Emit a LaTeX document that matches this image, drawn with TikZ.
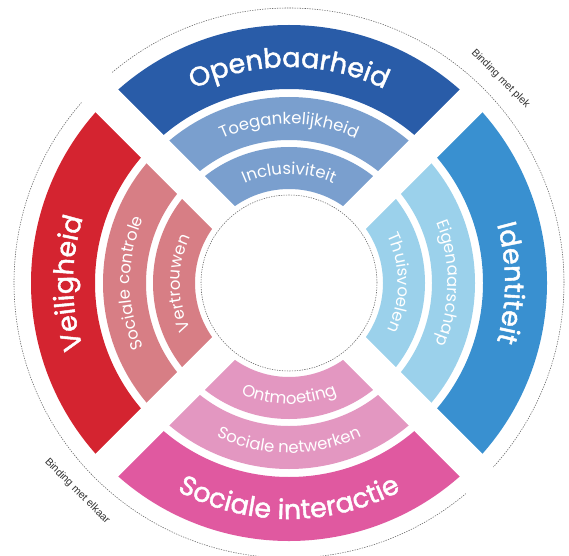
\documentclass[tikz,border=0pt]{standalone}
\usepackage{fontspec}
\setmainfont{Poppins}
\newfontfamily\bigfam[FakeBold=1.6]{Poppins}
\newfontfamily\labfont{Liberation Sans}
\usetikzlibrary{decorations.text}
\definecolor{cOpen}{RGB}{41,92,168}
\definecolor{cOpenL}{RGB}{122,159,206}
\definecolor{cIdent}{RGB}{57,144,208}
\definecolor{cIdentL}{RGB}{155,209,235}
\definecolor{cSoc}{RGB}{224,89,160}
\definecolor{cSocL}{RGB}{227,151,193}
\definecolor{cVeil}{RGB}{212,36,48}
\definecolor{cVeilL}{RGB}{215,126,133}
\definecolor{cDot}{RGB}{100,100,100}
\newcommand\bigf{\bigfam\fontsize{27}{30}\selectfont}
\newcommand\smf{\fontsize{16.5}{18}\selectfont}
\newcommand\ringsector[5]{%
  \fill[#1] ([shift={(c)}]#2:#4) arc[start angle=#2,end angle=#3,radius=#4]
    -- ([shift={(c)}]#3:#5) arc[start angle=#3,end angle=#2,radius=#5] -- cycle;}
\newcommand\arctext[5]{%
  \path[decorate,decoration={text along path,text={|#1|#2},text align=center,text color=white}]
    ([shift={(c)}]#4:#3) arc[start angle=#4,end angle=#5,radius=#3];}
\begin{document}
\begin{tikzpicture}[x=1pt,y=1pt,
  dotline/.style={cDot,line width=0.55pt,dash pattern=on 1.3pt off 1.2pt},
  lab/.style={font=\labfont\fontsize{10.5}{12}\selectfont,text=black!80,inner sep=0pt},
  gapline/.style={white,line width=32pt}]
\useasboundingbox (0,0) rectangle (569,555);
\fill[white] (0,0) rectangle (569,555);
\coordinate (c) at (289,272);
% outer bands
\ringsector{cOpen}{45}{135}{258}{194}
\ringsector{cVeil}{135}{225}{258}{194}
\ringsector{cSoc}{225}{315}{258}{194}
\ringsector{cIdent}{-45}{45}{258}{194}
% middle bands
\ringsector{cOpenL}{45}{135}{186}{143}
\ringsector{cVeilL}{135}{225}{186}{143}
\ringsector{cSocL}{225}{315}{186}{143}
\ringsector{cIdentL}{-45}{45}{186}{143}
% inner bands
\ringsector{cOpenL}{45}{135}{136}{94}
\ringsector{cVeilL}{135}{225}{136}{94}
\ringsector{cSocL}{225}{315}{136}{94}
\ringsector{cIdentL}{-45}{45}{136}{94}
% gaps between quadrants
\foreach \a in {45,135,225,315}
  \draw[gapline] ([shift={(c)}]\a:89) -- ([shift={(c)}]\a:266);
% dotted circles
\draw[dotline] (c) circle[radius=88];
\draw[dotline] ([shift={(c)}]130:275) arc[start angle=130,end angle=-42,radius=275];
\draw[dotline] ([shift={(c)}]139:275) arc[start angle=139,end angle=310,radius=275];
% labels outer
\node[lab,rotate=-45] (plek) at ([shift={(c)}]44:294) {Binding met plek};
\node[lab,rotate=-45] (elkaar) at ([shift={(c)}]224.5:297) {Binding met elkaar};
% band texts
\arctext{\bigf}{Openbaarheid}{216}{135}{45}
\arctext{\bigf}{Veiligheid}{216}{225}{135}
\arctext{\bigf}{Identiteit}{216}{45}{-45}
\arctext{\bigf}{Sociale interactie}{236}{225}{315}
\arctext{\smf}{Toegankelijkheid}{159}{135}{45}
\arctext{\smf}{Inclusiviteit}{109}{135}{45}
\arctext{\smf}{Sociale controle}{159}{225}{135}
\arctext{\smf}{Vertrouwen}{109}{225}{135}
\arctext{\smf}{Eigenaarschap}{159}{45}{-45}
\arctext{\smf}{Thuisvoelen}{109}{45}{-45}
\arctext{\smf}{Sociale netwerken}{170}{225}{315}
\arctext{\smf}{Ontmoeting}{121}{225}{315}
\end{tikzpicture}
\end{document}
